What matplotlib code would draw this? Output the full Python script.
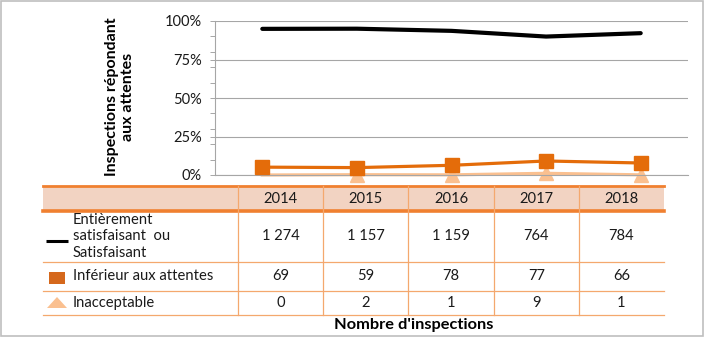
#!/usr/bin/env python
# -*- coding: utf-8 -*-
"""
inspections chart with data table underneath
"""

import numpy as np
import matplotlib
matplotlib.use("Agg")
import matplotlib.pyplot as plt
from matplotlib.patches import Rectangle, Polygon

plt.rcParams['font.family'] = ['Lato', 'DejaVu Sans']

years = ['2014', '2015', '2016', '2017', '2018']

# share of inspections (%)
pct_satisf = [94.9, 95.0, 93.6, 89.9, 92.1]
pct_inferieur = [5.1, 4.8, 6.3, 9.1, 7.8]
pct_inaccept = [0.0, 0.2, 0.1, 1.1, 0.1]

# number of inspections (table)
row_labels = ["Entièrement\nsatisfaisant  ou\nSatisfaisant", "Inférieur aux attentes", "Inacceptable"]
n_satisf = ['1 274', '1 157', '1 159', '764', '784']
n_inferieur = ['69', '59', '78', '77', '66']
n_inaccept = ['0', '2', '1', '9', '1']

W, H = 705, 338
c_black = '#000000'
c_orange = '#E46C0A'
c_light = '#FAC090'
c_grid = '#A6A6A6'
c_tab = '#F08030'
c_tab_thin = '#F4A86E'
c_head = '#F2D3C2'
c_txt = '#1a1a1a'

fig = plt.figure(figsize=(W / 100, H / 100), dpi=100)

# overlay in pixel coordinates for the table and frame
ov = fig.add_axes([0, 0, 1, 1])
ov.set_xlim(0, W)
ov.set_ylim(H, 0)
ov.axis('off')

# plot area
x0, x1, y_top, y_bot = 215, 688, 21, 175
ax = fig.add_axes([x0 / W, (H - y_bot) / H, (x1 - x0) / W, (y_bot - y_top) / H])
ax.patch.set_alpha(0)
x = np.arange(len(years))

ax.plot(x, pct_satisf, color=c_black, lw=3.0, solid_capstyle='round', zorder=3)
ax.plot(x, pct_inferieur, color=c_orange, lw=2.3, marker='s', ms=10.5,
        markeredgecolor=c_orange, zorder=4, clip_on=False)
ax.plot(x, pct_inaccept, color=c_light, lw=2.3, marker='^', ms=10,
        markevery=[1, 2, 3, 4], markeredgecolor=c_light, zorder=2, clip_on=False)

ax.set_xlim(-0.5, len(years) - 0.5)
ax.set_ylim(0, 100)
ax.set_xticks([])
ax.set_yticks([0, 25, 50, 75, 100])
ax.set_yticklabels(['0%', '25%', '50%', '75%', '100%'], fontsize=10.5, color=c_txt)
ax.set_yticks(np.arange(0, 101, 10), minor=True)
ax.tick_params(axis='y', which='both', direction='out', length=3.5, width=0.7,
               color=c_grid, pad=6)
ax.yaxis.grid(True, color=c_grid, lw=0.8)
ax.set_axisbelow(True)
for s in ['top', 'right']:
    ax.spines[s].set_visible(False)
ax.spines['left'].set_color(c_grid)
ax.spines['bottom'].set_color(c_grid)
ax.spines['left'].set_linewidth(0.8)
ax.spines['bottom'].set_linewidth(0.8)

fig.text(120 / W, (H - 97) / H, "Inspections répondant\naux attentes", rotation=90,
         ha='center', va='center', fontsize=11.5, fontweight='bold', linespacing=1.15)

# table
tl, tr = 43, 664
col_edges = [238, 323, 408, 494, 579, 664]
row_edges = [186, 211, 262, 291, 315]

ov.add_patch(Rectangle((tl, row_edges[0]), tr - tl, row_edges[1] - row_edges[0],
                       facecolor=c_head, edgecolor='none'))
ov.plot([tl, tr], [row_edges[0], row_edges[0]], color=c_tab, lw=2.0)
ov.plot([tl, tr], [row_edges[1], row_edges[1]], color=c_tab, lw=2.6)
for ye in row_edges[2:]:
    ov.plot([tl, tr], [ye, ye], color=c_tab_thin, lw=0.9)
for xe in col_edges[:-1]:
    ov.plot([xe, xe], [row_edges[0], row_edges[-1]], color=c_tab_thin, lw=0.9)

col_centers = [(col_edges[i] + col_edges[i + 1]) / 2 for i in range(len(years))]
for xc, yr in zip(col_centers, years):
    ov.text(xc, 199, yr, ha='center', va='center', fontsize=10.6, color=c_txt)

row_y = [(row_edges[i] + row_edges[i + 1]) / 2 for i in range(1, 4)]
for vals, yc in zip([n_satisf, n_inferieur, n_inaccept], row_y):
    for xc, v in zip(col_centers, vals):
        ov.text(xc, yc, v, ha='center', va='center', fontsize=10.6, color=c_txt)

for lab, yc in zip(row_labels, row_y):
    ov.text(73, yc, lab, ha='left', va='center', fontsize=10.6, color=c_txt,
            linespacing=1.2)

# legend keys in the table
ov.plot([46, 68], [241, 241], color=c_black, lw=2.2, solid_capstyle='butt')
ov.add_patch(Rectangle((49, 272), 16, 12, facecolor='#D5681C', edgecolor='none'))
ov.add_patch(Polygon([[47, 308], [67, 308], [57, 297]], closed=True,
                     facecolor=c_light, edgecolor='none'))

ov.text(414, 325, "Nombre d'inspections", ha='center', va='center',
        fontsize=11.8, fontweight='bold')

# outer frame
ov.add_patch(Rectangle((1, 1), W - 3, H - 3, facecolor='none', edgecolor='#BFBFBF', lw=1.2))

fig.savefig('out.png', dpi=100)
